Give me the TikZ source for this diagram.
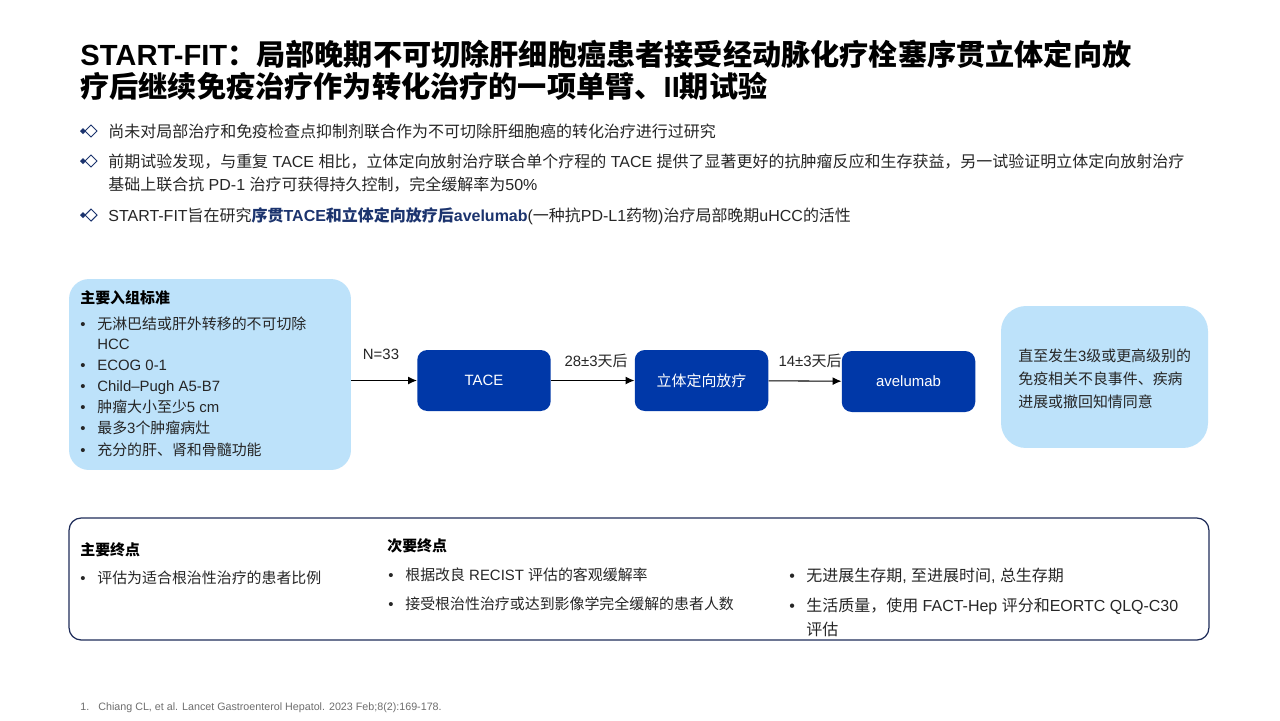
\documentclass[tikz,border=0pt]{standalone}
\usepackage{fontspec}
\setmainfont{Liberation Sans}
\newfontfamily\cjk{Noto Sans CJK SC}
\usetikzlibrary{arrows.meta}
% automatic switch between Latin and CJK fonts
\XeTeXinterchartokenstate=1
\newXeTeXintercharclass\mycjkclass
\newcount\mycnt
\def\setcjkrange#1#2{\mycnt=#1\relax\loop\XeTeXcharclass\mycnt=\mycjkclass\relax\ifnum\mycnt<#2\relax\advance\mycnt by 1\relax\repeat}
\setcjkrange{"4E00}{"9FFF}
\setcjkrange{"3000}{"303F}
\setcjkrange{"FF00}{"FFEF}
\XeTeXinterchartoks 0 \mycjkclass = {\cjk}
\XeTeXinterchartoks 4095 \mycjkclass = {\cjk}
\XeTeXinterchartoks \mycjkclass 0 = {\rmfamily}
\XeTeXinterchartoks \mycjkclass 4095 = {\rmfamily}
\definecolor{dblue}{RGB}{0,56,168}
\definecolor{lblue}{RGB}{189,226,250}
\definecolor{navy}{RGB}{28,52,110}
\definecolor{bordernavy}{RGB}{31,45,90}
\definecolor{body}{RGB}{38,38,38}
\definecolor{gtext}{RGB}{110,110,110}
\newcommand\bl{\makebox[0.34cm][l]{•}}
\tikzset{
  txt/.style={anchor=base west, inner sep=0pt, text=body},
  fnine/.style={font=\fontsize{9.1}{11}\selectfont},
  feight/.style={font=\fontsize{8.5}{10}\selectfont},
  feightb/.style={font=\bfseries\fontsize{8.5}{10}\selectfont},
  darkbox/.style={draw=none, fill=dblue, rounded corners=0.2cm, minimum width=2.67cm,
    minimum height=1.22cm, text=white, font=\fontsize{8.5}{10}\selectfont, inner sep=0pt},
  lightbox/.style={fill=lblue, draw=none, inner sep=0pt},
  arr/.style={-{Latex[length=5pt,width=4.5pt]}, line width=0.6pt, black},
  lab/.style={inner sep=0pt, font=\fontsize{8.5}{10}\selectfont, text=body}
}
\begin{document}
\begin{tikzpicture}[x=0.02cm,y=-0.02cm]
\useasboundingbox (0,0) rectangle (1280,720);
\fill[white] (0,0) rectangle (1280,720);

% title
\node[txt, text=black, font=\bfseries\fontsize{16.6}{18}\selectfont] (t1) at (80,65)
  {START-FIT：局部晚期不可切除肝细胞癌患者接受经动脉化疗栓塞序贯立体定向放};
\node[txt, text=black, font=\bfseries\fontsize{16.6}{18}\selectfont] (t2) at (80,97)
  {疗后继续免疫治疗作为转化治疗的一项单臂、II期试验};

% diamond markers
\foreach \yy in {131,161,215}{
  \fill[navy] (83,\yy) +(-3,0) -- +(0,-3) -- +(3,0) -- +(0,3) -- cycle;
  \draw[navy, line width=0.6pt] (91,\yy) +(-6,0) -- +(0,-6) -- +(6,0) -- +(0,6) -- cycle;
}
\node[txt, fnine] (b1) at (108,137)
  {尚未对局部治疗和免疫检查点抑制剂联合作为不可切除肝细胞癌的转化治疗进行过研究};
\node[txt, fnine] (b2a) at (108,167)
  {前期试验发现，与重复 TACE 相比，立体定向放射治疗联合单个疗程的 TACE 提供了显著更好的抗肿瘤反应和生存获益，另一试验证明立体定向放射治疗};
\node[txt, fnine] (b2b) at (108,190)
  {基础上联合抗 PD-1 治疗可获得持久控制，完全缓解率为50\%};
\node[txt, fnine] (b3) at (108,221)
  {START-FIT旨在研究{\bfseries\color{navy}序贯TACE和立体定向放疗后avelumab}\rmfamily(一种抗PD-L1药物)治疗局部晚期uHCC的活性};

% inclusion box
\node[lightbox, rounded corners=0.4cm, minimum width=5.64cm, minimum height=3.82cm] (inc) at (210,374.5) {};
\node[txt, feightb, text=black] (incH) at (80,303.5) {主要入组标准};
\node[txt, feight] (i1) at (80,329.4) {\bl 无淋巴结或肝外转移的不可切除};
\node[txt, feight] (i1b) at (97,349.4) {HCC};
\node[txt, feight] (i2) at (80,370.4) {\bl ECOG 0-1};
\node[txt, feight] (i3) at (80,391.4) {\bl Child–Pugh A5-B7};
\node[txt, feight] (i4) at (80,412.4) {\bl 肿瘤大小至少5 cm};
\node[txt, feight] (i5) at (80,433.4) {\bl 最多3个肿瘤病灶};
\node[txt, feight] (i6) at (80,455.4) {\bl 充分的肝、肾和骨髓功能};

% flow
\node[darkbox] (tace) at (484,380.5) {TACE};
\node[darkbox] (sbrt) at (701.5,380.5) {立体定向放疗};
\node[darkbox] (ave) at (908.5,381.5) {avelumab};
\node[lightbox, rounded corners=0.5cm, minimum width=4.14cm, minimum height=2.84cm] (stop) at (1104.5,377) {};
\node[txt, feight] (s1) at (1018,361.4) {直至发生3级或更高级别的};
\node[txt, feight] (s2) at (1018,384.4) {免疫相关不良事件、疾病};
\node[txt, feight] (s3) at (1018,407.4) {进展或撤回知情同意};

\draw[arr] (inc.east |- tace.west) -- (tace.west);
\draw[arr] (tace) -- (sbrt);
\draw[arr] (sbrt) -- (ave);
\node[lab] (n33) at (381,354) {N=33};
\node[lab] (d28) at (596,361) {28±3天后};
\node[lab] (d14) at (810,361) {14±3天后};

% endpoints box
\node[draw=bordernavy, line width=0.7pt, rounded corners=0.24cm, minimum width=22.8cm,
  minimum height=2.44cm, inner sep=0pt] (ep) at (639,579) {};
\node[txt, feightb, text=black] (e1h) at (80,555.4) {主要终点};
\node[txt, feight] (e1) at (80,583.4) {\bl 评估为适合根治性治疗的患者比例};
\node[txt, feightb, text=black] (e2h) at (387,551.4) {次要终点};
\node[txt, feight] (e2) at (388,580.4) {\bl 根据改良 RECIST 评估的客观缓解率};
\node[txt, feight] (e3) at (388,609.4) {\bl 接受根治性治疗或达到影像学完全缓解的患者人数};
\node[txt, fnine] (e4) at (789,581.8) {\bl 无进展生存期, 至进展时间, 总生存期};
\node[txt, fnine] (e5) at (789,611.8) {\bl 生活质量，使用 FACT-Hep 评分和EORTC QLQ-C30};
\node[txt, fnine] (e5b) at (806,635.8) {评估};

% footnote
\node[txt, text=gtext, font=\fontsize{6.1}{7}\selectfont] (fn) at (80,710)
  {\makebox[0.36cm][l]{1.}Chiang CL, et al. Lancet Gastroenterol Hepatol. 2023 Feb;8(2):169-178.};
\end{tikzpicture}
\end{document}
